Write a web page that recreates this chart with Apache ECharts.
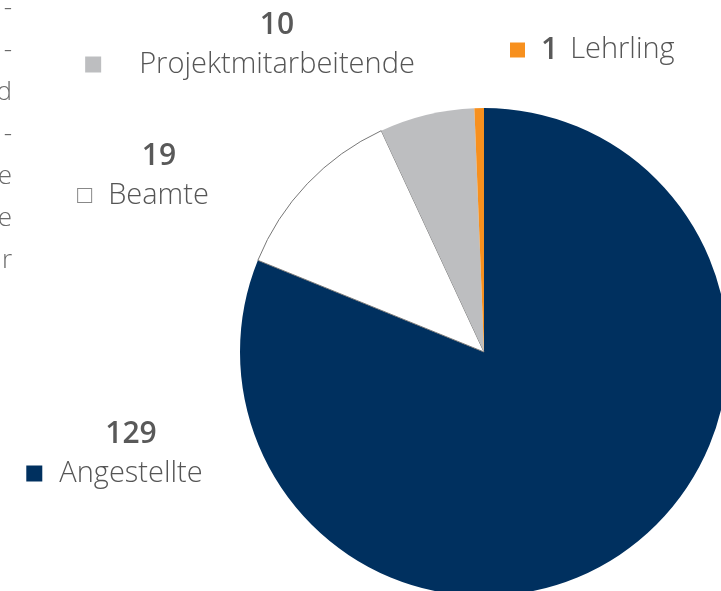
<!DOCTYPE html>
<html>
<head>
<meta charset="utf-8">
<script src="https://cdn.jsdelivr.net/npm/echarts@6/dist/echarts.min.js"></script>
<style>
  html, body { margin: 0; padding: 0; background: #fff; }
  #chart { width: 721px; height: 591px; }
</style>
</head>
<body>
<div id="chart"></div>
<script>
const names = ['Angestellte', 'Beamte', 'Projektmitarbeitende', 'Lehrling']
const values = [129, 19, 10, 1]
const colors = ['#00305f', '#ffffff', '#bdbec0', '#f7901e']
// Zeilenenden der abgeschnittenen Nachbarspalte
const sideText = ['-', '-', 'd', '-', 'e', 'e', 'r']

// Label-Positionen (Mitte x, Mitte y)
const labelPos = [
  { x: 131, y: 454, align: 'center' },
  { x: 159, y: 176, align: 'center' },
  { x: 277, y: 45, align: 'center' },
  { x: 510, y: 50, align: 'left' }
]
const markerSize = [16, 14, 16, 15]
const markerGap = [17, 17, 38, 16]

const chart = echarts.init(document.getElementById('chart'))

const font = 'Open Sans'
const rich = {
  b: { fontFamily: font, fontSize: 30, fontWeight: 600, color: '#595959', lineHeight: 39 },
  n: { fontFamily: font, fontSize: 29, fontWeight: 300, color: '#555555', lineHeight: 39 },
  sp: { width: 12, height: 1 },
  m0: { backgroundColor: colors[0], width: 16, height: 16 },
  m1: { backgroundColor: '#fff', borderColor: '#888', borderWidth: 1, width: 13, height: 13 },
  m2: { backgroundColor: colors[2], width: 16, height: 16 },
  m3: { backgroundColor: colors[3], width: 15, height: 15 }
}
markerGap.forEach((g, i) => {
  rich['g' + i] = { width: g, height: 1 }
  rich['s' + i] = { width: g + markerSize[i], height: 1 }
})

const option = {
  animation: false,
  graphic: sideText.map((t, i) => ({
    type: 'text',
    silent: true,
    style: {
      text: t,
      x: 12,
      y: 190 - 42 * (4 - i),
      textAlign: 'right',
      textVerticalAlign: 'bottom',
      font: '300 26px "Open Sans"',
      fill: '#6a6a6a'
    }
  })),
  series: [{
    type: 'pie',
    center: [484, 352],
    radius: [0, 244],
    startAngle: 90,
    clockwise: true,
    silent: true,
    labelLine: { show: false },
    data: names.map((n, i) => ({
      name: n,
      value: values[i],
      itemStyle: {
        color: colors[i],
        borderColor: i === 1 ? '#777' : colors[i],
        borderWidth: i === 1 ? 1 : 0
      }
    })),
    label: {
      show: true,
      overflow: 'none',
      formatter: (p) => {
        const i = p.dataIndex
        if (i === 3) {
          return '{m3|}{g3|}{b|' + p.value + '}{sp|}{n|' + p.name + '}'
        }
        return '{b|' + p.value + '}\n{m' + i + '|}{g' + i + '|}{n|' + p.name + '}{s' + i + '|}'
      },
      color: '#595959',
      fontFamily: font,
      rich: rich
    },
    labelLayout: (p) => {
      const lp = labelPos[p.dataIndex]
      return { x: lp.x, y: lp.y, align: lp.align, verticalAlign: 'middle', hideOverlap: false }
    }
  }]
}
chart.setOption(option)
</script>
</body>
</html>
